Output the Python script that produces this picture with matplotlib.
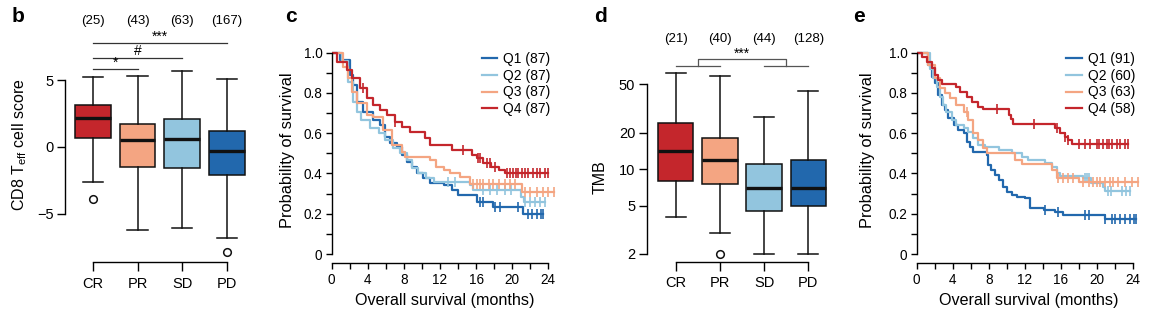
import numpy as np
import matplotlib
matplotlib.use("Agg")
import matplotlib.pyplot as plt

plt.rcParams['font.family'] = ['Liberation Sans', 'DejaVu Sans']
plt.rcParams['mathtext.fontset'] = 'custom'
plt.rcParams['mathtext.rm'] = 'Liberation Sans'
plt.rcParams['mathtext.it'] = 'Liberation Sans:italic'

# colours (RdBu-like)
c_red, c_salmon, c_lblue, c_blue = '#c4262c', '#f4a582', '#92c5de', '#2268ad'

# ---------------- data ----------------
groups = ['CR', 'PR', 'SD', 'PD']
box_colors = [c_red, c_salmon, c_lblue, c_blue]

# panel b: CD8 Teff cell score by response
b_counts = [25, 43, 63, 167]
b_whislo = [-2.63, -6.25, -6.05, -6.83]
b_q1 = [0.68, -1.50, -1.55, -2.13]
b_med = [2.15, 0.55, 0.62, -0.27]
b_q3 = [3.18, 1.75, 2.12, 1.20]
b_whishi = [5.25, 5.35, 5.72, 5.08]
b_fliers = [[-3.88], [], [], [-7.88]]

# panel d: TMB by response
d_counts = [21, 40, 44, 128]
d_whislo = [4.0, 3.0, 2.0, 2.0]
d_q1 = [8.0, 7.5, 4.5, 5.0]
d_med = [14.1, 12.0, 7.0, 7.0]
d_q3 = [23.8, 18.2, 11.0, 11.9]
d_whishi = [62.0, 59.0, 27.0, 44.0]
d_fliers = [[], [2.0], [], []]

# panel c: KM curves, CD8 Teff quartiles
c_labels = ['Q1 (87)', 'Q2 (87)', 'Q3 (87)', 'Q4 (87)']
c_q1_t = [0, 0.9, 2.0, 2.4, 2.8, 3.5, 4.6, 5.35, 5.9, 6.5, 7.2, 7.75, 8.3, 8.9, 9.4,
          10.15, 10.9, 12.4, 13.3, 14.0, 16.1, 17.9, 21.2]
c_q1_s = [1.0, 0.964, 0.889, 0.84, 0.757, 0.707, 0.666, 0.641, 0.583, 0.55, 0.533, 0.492,
          0.459, 0.434, 0.40, 0.376, 0.351, 0.343, 0.318, 0.293, 0.26, 0.235, 0.20]
c_q1_c = [16.4, 16.8, 18.1, 18.7, 20.7, 21.7, 22.2, 22.7, 23.2, 23.4]
c_q2_t = [0, 1.1, 1.85, 2.4, 2.8, 3.3, 4.25, 5.2, 5.9, 6.8, 7.6, 8.3, 8.9, 9.6, 10.5,
          11.3, 15.3, 15.7, 21.0, 21.3]
c_q2_s = [1.0, 0.96, 0.856, 0.757, 0.707, 0.666, 0.624, 0.60, 0.566, 0.525, 0.50, 0.467,
          0.426, 0.40, 0.376, 0.36, 0.343, 0.318, 0.285, 0.26]
c_q2_c = [12.9, 13.7, 16.8, 17.5, 18.3, 19.2, 19.9, 21.4, 22.0, 22.5, 23.1, 23.6]
c_q3_t = [0, 1.3, 1.85, 2.2, 2.8, 3.9, 4.6, 5.7, 6.65, 7.75, 8.1, 10.9, 11.6, 12.4, 13.1,
          14.2, 15.3, 21.1]
c_q3_s = [1.0, 0.93, 0.873, 0.806, 0.749, 0.69, 0.682, 0.616, 0.54, 0.508, 0.483, 0.467,
          0.434, 0.417, 0.40, 0.384, 0.35, 0.31]
c_q3_c = [15.7, 16.1, 16.4, 16.8, 17.4, 17.9, 18.5, 19.2, 19.8, 20.3, 21.4, 22.0, 22.7,
          23.4, 24.0, 24.6]
c_q4_t = [0, 0.55, 1.66, 2.2, 3.1, 3.9, 4.6, 5.35, 6.1, 7.0, 7.75, 8.7, 10.3, 10.9, 13.3,
          15.5, 16.1, 16.8, 17.7, 18.5, 19.2]
c_q4_s = [1.0, 0.955, 0.914, 0.873, 0.823, 0.774, 0.74, 0.715, 0.69, 0.657, 0.632, 0.608,
          0.575, 0.54, 0.517, 0.49, 0.475, 0.45, 0.434, 0.417, 0.40]
c_q4_c = [3.5, 7.0, 14.6, 16.2, 16.4, 17.2, 17.5, 18.1, 19.4, 19.8, 20.1, 20.4, 20.7, 21.1,
          21.4, 21.8, 22.3, 22.7, 23.1, 23.6, 24.0]

# panel e: KM curves, TMB quartiles
e_labels = ['Q1 (91)', 'Q2 (60)', 'Q3 (63)', 'Q4 (58)']
e_q1_t = [0, 1.3, 1.67, 2.0, 2.4, 2.8, 3.1, 3.5, 4.1, 4.6, 5.2, 5.55, 5.9, 6.3, 7.8, 7.95,
          8.3, 8.7, 9.1, 9.6, 10.0, 10.55, 11.1, 12.0, 12.6, 14.1, 15.4, 16.3, 20.9]
e_q1_s = [1.0, 0.94, 0.881, 0.848, 0.79, 0.74, 0.715, 0.674, 0.641, 0.616, 0.60, 0.558,
          0.533, 0.508, 0.492, 0.442, 0.417, 0.392, 0.368, 0.334, 0.31, 0.293, 0.285, 0.277,
          0.227, 0.219, 0.21, 0.194, 0.174]
e_q1_c = [14.3, 15.7, 18.7, 19.1, 20.9, 21.7, 22.0, 22.6, 23.1, 23.7, 24.1, 24.4]
e_q2_t = [0, 1.5, 1.85, 2.2, 2.6, 2.95, 3.3, 3.9, 4.4, 5.2, 5.7, 6.3, 6.85, 7.6, 9.1, 10.55,
          11.7, 12.4, 14.25, 15.0, 15.6, 15.9, 18.5, 19.4, 20.7, 20.9]
e_q2_s = [1.0, 0.92, 0.873, 0.831, 0.781, 0.74, 0.707, 0.666, 0.641, 0.624, 0.608, 0.575,
          0.541, 0.533, 0.517, 0.50, 0.483, 0.467, 0.45, 0.434, 0.40, 0.389, 0.376, 0.351,
          0.334, 0.313]
e_q2_c = [18.7, 18.9, 19.1, 21.3, 21.6, 22.8, 23.3, 23.7]
e_q3_t = [0, 1.3, 2.0, 2.6, 3.1, 3.7, 4.4, 5.2, 5.7, 6.3, 6.85, 7.4, 7.8, 10.9, 11.7, 15.0,
          15.6, 18.0]
e_q3_s = [1.0, 0.94, 0.873, 0.823, 0.798, 0.774, 0.74, 0.707, 0.666, 0.60, 0.566, 0.525,
          0.50, 0.467, 0.446, 0.417, 0.376, 0.356]
e_q3_c = [5.55, 15.7, 16.3, 16.8, 17.4, 18.5, 19.1, 19.6, 20.0, 20.4, 20.9, 21.5, 21.8,
          22.4, 23.1, 23.9, 24.6]
e_q4_t = [0, 0.55, 1.1, 1.67, 2.0, 2.4, 2.8, 4.4, 4.8, 5.55, 6.1, 6.85, 7.4, 10.2, 10.5,
          10.7, 15.4, 15.9, 16.5, 16.8, 17.2]
e_q4_s = [1.0, 0.98, 0.955, 0.922, 0.889, 0.864, 0.843, 0.831, 0.806, 0.781, 0.757, 0.732,
          0.72, 0.69, 0.67, 0.645, 0.624, 0.60, 0.583, 0.566, 0.545]
e_q4_c = [8.9, 13.0, 15.6, 16.5, 16.8, 18.0, 18.7, 19.3, 20.0, 20.3, 20.7, 21.1, 21.4, 21.7,
          22.2, 22.6, 23.1, 23.5]

# ---------------- figure ----------------
W, H = 1151, 323
fig = plt.figure(figsize=(W / 100, H / 100), dpi=100)


def px_axes(left, top, right, bottom):
    return fig.add_axes([left / W, 1 - bottom / H, (right - left) / W, (bottom - top) / H])


def draw_box(ax, whislo, q1, med, q3, whishi, fliers):
    stats = []
    for i in range(len(groups)):
        stats.append(dict(whislo=whislo[i], q1=q1[i], med=med[i], q3=q3[i],
                          whishi=whishi[i], fliers=fliers[i], label=groups[i]))
    bp = ax.bxp(stats, positions=[1, 2, 3, 4], widths=0.8, capwidths=0.46,
                patch_artist=True, manage_ticks=False,
                boxprops=dict(linewidth=1.1, edgecolor='#111111'),
                medianprops=dict(color='#111111', linewidth=2.4, solid_capstyle='butt'),
                whiskerprops=dict(linewidth=1.1, color='#111111'),
                capprops=dict(linewidth=1.1, color='#111111'),
                flierprops=dict(marker='o', markerfacecolor='none', markeredgecolor='#111111',
                                markersize=5.5, markeredgewidth=1.1))
    for patch, col in zip(bp['boxes'], box_colors):
        patch.set_facecolor(col)
    for s in ['top', 'right']:
        ax.spines[s].set_visible(False)
    ax.spines['bottom'].set_bounds(1, 4)
    ax.set_xticks([1, 2, 3, 4])
    ax.set_xticklabels(groups)
    ax.tick_params(axis='x', direction='out', length=6.5, width=1, labelsize=10.5, pad=4)
    ax.tick_params(axis='y', direction='out', length=5.8, width=1, labelsize=10.5, pad=2.5)
    for s in ['left', 'bottom']:
        ax.spines[s].set_linewidth(1)


def draw_km(ax, curves, censors, labels):
    cols = [c_blue, c_lblue, c_salmon, c_red]
    handles = []
    for (t, s), ct, col in zip(curves, censors, cols):
        t = np.array(t)
        s = np.array(s)
        end = max(ct) if len(ct) else t[-1]
        tt = np.append(t, end)
        ss = np.append(s, s[-1])
        ln, = ax.step(tt, ss, where='post', color=col, lw=1.6)
        idx = np.searchsorted(t, ct, side='right') - 1
        ax.plot(ct, s[idx], ls='none', marker='|', ms=6.5, mew=1.2, color=col)
        handles.append(ln)
    ax.set_xlim(0, 25)
    ax.set_ylim(0, 1.03)
    for sp in ['top', 'right']:
        ax.spines[sp].set_visible(False)
    ax.spines['bottom'].set_position(('outward', 6.7))
    ax.spines['bottom'].set_bounds(0, 24)
    ax.spines['left'].set_bounds(0, 1)
    for sp in ['left', 'bottom']:
        ax.spines[sp].set_linewidth(1)
    ax.set_xticks(np.arange(0, 25, 2))
    ax.set_xticklabels([str(v) if v % 4 == 0 else '' for v in range(0, 25, 2)])
    ax.set_yticks(np.arange(0, 1.01, 0.1))
    ax.set_yticklabels(['0' if i == 0 else ('%.1f' % (i / 10) if i % 2 == 0 else '')
                        for i in range(11)])
    ax.tick_params(direction='out', length=4.3, width=1, labelsize=9.8, pad=2.5)
    ax.set_ylabel('Probability of survival', fontsize=11.8)
    ax.set_xlabel('Overall survival (months)', fontsize=11.6)
    ax.xaxis.set_label_coords(0.5, -0.19)
    ax.legend(handles, labels, loc='upper left', bbox_to_anchor=(0.665, 0.975),
              frameon=False, fontsize=10, handlelength=1.1, handletextpad=0.45,
              labelspacing=0.2, borderpad=0, borderaxespad=0)


# panel b
axb = px_axes(65, 15.4, 253.6, 262.0)
draw_box(axb, b_whislo, b_q1, b_med, b_q3, b_whishi, b_fliers)
axb.set_xlim(0.372, 4.6)
axb.set_ylim(-8.63, 9.875)
axb.spines['left'].set_bounds(-5, 5)
axb.set_yticks([-5, 0, 5])
axb.set_yticklabels(['\u22125', '0', '5'])
axb.set_ylabel('CD8 T$_{\\mathrm{eff}}$ cell score', fontsize=11.5)
axb.yaxis.set_label_coords(-0.19, 0.474)
for i, n in enumerate(b_counts):
    axb.text(i + 1, 9.45, '(%d)' % n, ha='center', va='center', fontsize=9.5)
for x1, yy, lab in [(4, 7.8, '***'), (3, 6.68, '#'), (2, 5.85, '*')]:
    axb.plot([1, x1], [yy, yy], color='#333333', lw=0.9, clip_on=False)
    axb.text((1 + x1) / 2, yy + 0.2, lab, ha='center', va='baseline', fontsize=10)

# panel c
axc = px_axes(331.7, 46.7, 557.3, 254)
draw_km(axc, [(c_q1_t, c_q1_s), (c_q2_t, c_q2_s), (c_q3_t, c_q3_s), (c_q4_t, c_q4_s)],
        [c_q1_c, c_q2_c, c_q3_c, c_q4_c], c_labels)
axc.yaxis.set_label_coords(-0.163, 0.502)

# panel d
axd = px_axes(646.7, 30, 834.8, 261.7)
axd.set_yscale('log')
draw_box(axd, d_whislo, d_q1, d_med, d_q3, d_whishi, d_fliers)
axd.set_xlim(0.344, 4.6)
axd.set_ylim(1.728, 140)
axd.spines['left'].set_bounds(2, 50)
axd.set_yticks([2, 5, 10, 20, 50])
axd.set_yticklabels(['2', '5', '10', '20', '50'])
axd.yaxis.set_minor_locator(matplotlib.ticker.NullLocator())
axd.set_ylabel('TMB', fontsize=11.5)
axd.yaxis.set_label_coords(-0.206, 0.366)
for i, n in enumerate(d_counts):
    axd.text(i + 1, 118, '(%d)' % n, ha='center', va='center', fontsize=9.5)
lo, hi = 71.1, 80.3
brk = '#555555'
axd.plot([1, 2], [lo, lo], color=brk, lw=0.9, clip_on=False)
axd.plot([3, 4], [lo, lo], color=brk, lw=0.9, clip_on=False)
axd.plot([1.5, 1.5, 3.5, 3.5], [lo, hi, hi, lo], color=brk, lw=0.9, clip_on=False)
axd.text(2.5, hi * 1.02, '***', ha='center', va='baseline', fontsize=10)

# panel e
axe = px_axes(916.7, 46.7, 1141.7, 254)
draw_km(axe, [(e_q1_t, e_q1_s), (e_q2_t, e_q2_s), (e_q3_t, e_q3_s), (e_q4_t, e_q4_s)],
        [e_q1_c, e_q2_c, e_q3_c, e_q4_c], e_labels)
axe.yaxis.set_label_coords(-0.185, 0.502)

# panel letters
for x, lab in [(18, 'b'), (291, 'c'), (601, 'd'), (859, 'e')]:
    fig.text(x / W, 1 - 17 / H, lab, fontsize=15, fontweight='bold', ha='center', va='center')

fig.savefig('out.png', dpi=100)
